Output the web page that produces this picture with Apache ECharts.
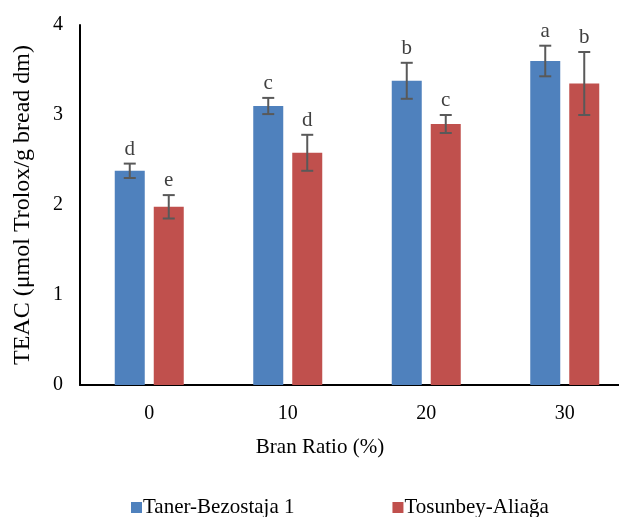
<!DOCTYPE html>
<html>
<head>
<meta charset="utf-8">
<script src="https://cdn.jsdelivr.net/npm/echarts@6/dist/echarts.min.js"></script>
<style>html,body{margin:0;padding:0;background:#fff;}#c{width:619px;height:517px;}</style>
</head>
<body>
<div id="c"></div>
<script>
var categories = ['0', '10', '20', '30'];
var seriesNames = ['Taner-Bezostaja 1', 'Tosunbey-Aliağa'];
var blueValues = [2.38, 3.10, 3.38, 3.60];
var blueErrors = [0.08, 0.09, 0.20, 0.17];
var blueLetters = ['d', 'c', 'b', 'a'];
var redValues = [1.98, 2.58, 2.90, 3.35];
var redErrors = [0.13, 0.20, 0.10, 0.35];
var redLetters = ['e', 'd', 'c', 'b'];
var yTicks = [0, 1, 2, 3, 4];

var FONT = '"Liberation Serif", "Times New Roman", serif';
var BAR_W = 30, BAR_GAP = 9;

function errSeries(values, errors, letters, offset) {
  var data = values.map(function (v, i) { return [i, v, errors[i]]; });
  return {
    type: 'custom',
    silent: true,
    z: 5,
    data: data,
    renderItem: function (params, api) {
      var i = api.value(0), v = api.value(1), e = api.value(2);
      var top = api.coord([i, v + e]);
      var bot = api.coord([i, v - e]);
      var x = top[0] + offset;
      var cap = 6;
      var st = { stroke: '#595959', lineWidth: 2 };
      return {
        type: 'group',
        children: [
          { type: 'line', shape: { x1: x, y1: top[1], x2: x, y2: bot[1] }, style: st },
          { type: 'line', shape: { x1: x - cap, y1: top[1], x2: x + cap, y2: top[1] }, style: st },
          { type: 'line', shape: { x1: x - cap, y1: bot[1], x2: x + cap, y2: bot[1] }, style: st },
          { type: 'text', style: { text: letters[params.dataIndex], x: x, y: top[1] - 4,
              align: 'center', verticalAlign: 'bottom', font: '21px ' + FONT, fill: '#404040' } }
        ]
      };
    }
  };
}

var chart = echarts.init(document.getElementById('c'), null, { renderer: 'canvas' });
chart.setOption({
  animation: false,
  backgroundColor: '#fff',
  grid: { left: 80, top: 25, width: 554, height: 360, containLabel: false, outerBoundsMode: 'none' },
  legend: {
    data: seriesNames,
    left: 126, top: 492,
    itemWidth: 11, itemHeight: 11, itemGap: 98,
    icon: 'rect',
    textStyle: { fontFamily: FONT, fontSize: 21, color: '#000', padding: [0, 0, 0, -4] }
  },
  xAxis: {
    type: 'category',
    data: categories,
    name: 'Bran Ratio (%)',
    nameLocation: 'middle',
    nameGap: 52,
    nameTextStyle: { fontFamily: FONT, fontSize: 21, color: '#000', padding: [0, 74, 0, 0] },
    axisLine: { lineStyle: { color: '#000', width: 2 } },
    axisTick: { show: false },
    axisLabel: { fontFamily: FONT, fontSize: 20, color: '#000', margin: 19 }
  },
  yAxis: {
    type: 'value',
    min: 0, max: 4, interval: 1,
    name: 'TEAC (μmol Trolox/g bread dm)',
    nameLocation: 'middle',
    nameGap: 45,
    nameTextStyle: { fontFamily: FONT, fontSize: 24, color: '#000' },
    axisLine: { show: true, lineStyle: { color: '#000', width: 2 } },
    axisTick: { show: false },
    splitLine: { show: false },
    axisLabel: { fontFamily: FONT, fontSize: 20, color: '#000', margin: 17 }
  },
  series: [
    { name: seriesNames[0], type: 'bar', data: blueValues, barWidth: BAR_W, barGap: (BAR_GAP / BAR_W * 100) + '%',
      itemStyle: { color: '#4F81BD' } },
    { name: seriesNames[1], type: 'bar', data: redValues, barWidth: BAR_W,
      itemStyle: { color: '#C0504D' } },
    errSeries(blueValues, blueErrors, blueLetters, -(BAR_W + BAR_GAP) / 2),
    errSeries(redValues, redErrors, redLetters, (BAR_W + BAR_GAP) / 2)
  ]
});
</script>
</body>
</html>
